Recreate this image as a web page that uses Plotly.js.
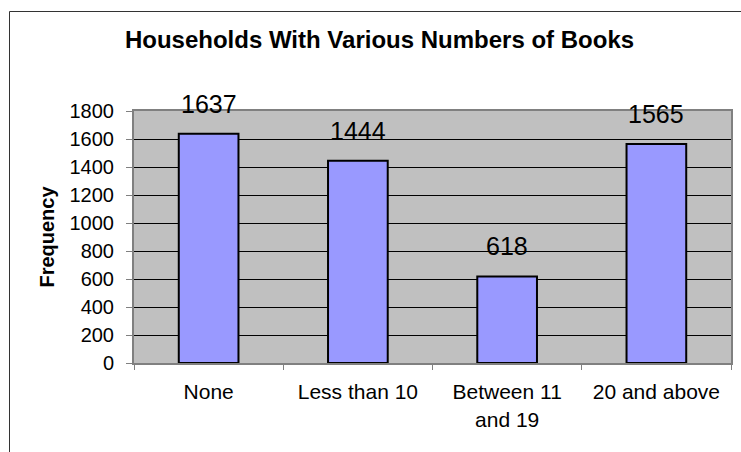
<!DOCTYPE html>
<html>
<head>
<meta charset="utf-8">
<script src="https://cdn.plot.ly/plotly-3.0.1.min.js"></script>
<style>
  html, body { margin: 0; padding: 0; background: #ffffff; }
  #chart { width: 741px; height: 452px; }
</style>
</head>
<body>
<div id="chart"></div>
<script>
// ---- data ----
const categories = ["None", "Less than 10", "Between 11 and 19", "20 and above"];
const tickLabels = ["None", "Less than 10", "Between 11<br>and 19", "20 and above"];
const frequencies = [1637, 1444, 618, 1565];
const chartTitle = "Households With Various Numbers of Books";
const yTitle = "Frequency";

// ---- layout geometry (pixels) ----
const W = 741, H = 452;
const M = { l: 134, r: 10, t: 111, b: 89 };
const pw = W - M.l - M.r, ph = H - M.t - M.b;
const px = x => (x - M.l) / pw;
const py = y => (H - M.b - y) / ph;

const FONT = "Arial, 'Liberation Sans', sans-serif";

const trace = {
  type: "bar",
  x: categories,
  y: frequencies,
  width: 0.4,
  marker: { color: "#9999FF", line: { color: "#000000", width: 2 } },
  hoverinfo: "none"
};

const annotations = categories.map((c, i) => ({
  x: c, y: frequencies[i], xref: "x", yref: "y",
  text: String(frequencies[i]),
  showarrow: false, yanchor: "bottom", yshift: 14,
  font: { family: FONT, size: 25, color: "#000000" }
}));

const layout = {
  width: W, height: H,
  margin: M,
  paper_bgcolor: "#ffffff",
  plot_bgcolor: "#C0C0C0",
  showlegend: false,
  font: { family: FONT, color: "#000000" },
  title: {
    text: "<b>" + chartTitle + "</b>",
    font: { family: FONT, size: 24, color: "#000000" },
    x: 379.5 / W, xanchor: "center", xref: "container",
    y: 1 - 40 / H, yanchor: "middle", yref: "container"
  },
  xaxis: {
    type: "category",
    tickmode: "array",
    tickvals: categories,
    ticktext: tickLabels,
    tickson: "boundaries",
    ticks: "outside", ticklen: 5, tickwidth: 1, tickcolor: "#808080",
    ticklabelstandoff: 9,
    tickfont: { family: FONT, size: 21, color: "#000000" },
    showline: true, linecolor: "#808080", linewidth: 2, mirror: true,
    showgrid: false,
    range: [-0.5, 3.5],
    fixedrange: true
  },
  yaxis: {
    range: [0, 1800],
    tickmode: "linear", tick0: 0, dtick: 200,
    ticks: "outside", ticklen: 6, tickwidth: 1, tickcolor: "#808080",
    ticklabelstandoff: 8,
    tickfont: { family: FONT, size: 20, color: "#000000" },
    showline: true, linecolor: "#808080", linewidth: 2, mirror: true,
    showgrid: true, gridcolor: "#000000", gridwidth: 1,
    zeroline: false,
    title: {
      text: "<b>" + yTitle + "</b>",
      font: { family: FONT, size: 20, color: "#000000" },
      standoff: 10
    },
    fixedrange: true
  },
  annotations: annotations,
  shapes: [{
    type: "path", xref: "paper", yref: "paper",
    path: "M " + px(9.5) + " " + py(460) + " L " + px(9.5) + " " + py(11.5) + " L " + px(760) + " " + py(11.5),
    line: { color: "#333333", width: 1 }
  }]
};

Plotly.newPlot("chart", [trace], layout, { displayModeBar: false, staticPlot: true });
</script>
</body>
</html>
